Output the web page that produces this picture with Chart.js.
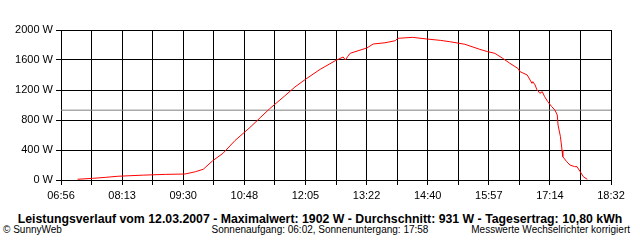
<!DOCTYPE html>
<html>
<head>
<meta charset="utf-8">
<script src="https://cdn.jsdelivr.net/npm/chart.js@4/dist/chart.umd.min.js"></script>
<style>
  body { margin: 0; background: #fff; }
  #wrap { position: relative; width: 640px; height: 240px; overflow: hidden; background: #fff; }
  #chart { position: absolute; left: 0; top: 0; }
  .txt { position: absolute; font-family: "Liberation Sans", Arial, sans-serif; color: #000; line-height: 1; white-space: nowrap; }
  #title { left: 0; width: 640px; top: 213px; text-align: center; font-weight: bold; font-size: 12.3px; }
  #left { left: 3px; top: 225px; font-size: 10px; }
  #mid { left: 0; width: 640px; top: 225px; text-align: center; font-size: 10px; }
  #right { right: 10px; top: 225px; font-size: 10px; }
</style>
</head>
<body>
<div id="wrap">
  <canvas id="chart" width="640" height="200"></canvas>
  <div class="txt" id="title">Leistungsverlauf vom 12.03.2007 - Maximalwert: 1902 W - Durchschnitt: 931 W - Tagesertrag: 10,80 kWh</div>
  <div class="txt" id="left">© SunnyWeb</div>
  <div class="txt" id="mid">Sonnenaufgang: 06:02, Sonnenuntergang: 17:58</div>
  <div class="txt" id="right">Messwerte Wechselrichter korrigiert</div>
</div>
<script>
// Achsenbeschriftung (jede zweite Gitterlinie hat ein Label)
const timeLabels = ["06:56", "08:13", "09:30", "10:48", "12:05", "13:22", "14:40", "15:57", "17:14", "18:32"];
const yMax = 2000;
const yStep = 400;
const average = 931; // Durchschnitt in W

const sampleTimes = [
  "07:17", "07:36", "07:52", "08:08", "08:40", "09:08", "09:33", "09:46", "09:56", "10:08",
  "10:21", "10:36", "10:55", "11:08", "11:20", "11:39", "11:52", "12:05", "12:24", "12:43",
  "12:53", "12:56", "12:59", "13:02", "13:23", "13:31", "13:46", "13:59", "14:02", "14:21",
  "14:39", "14:56", "15:08", "15:27", "15:46", "15:56", "16:05", "16:15", "16:24", "16:34",
  "16:37", "16:46", "16:52", "16:53", "16:56", "16:58", "17:02", "17:05", "17:08", "17:12",
  "17:17", "17:21", "17:24", "17:25", "17:28", "17:30", "17:31", "17:36", "17:40", "17:46",
  "17:49", "17:53", "17:57", "18:02"
];
const watts = [
  10, 22, 35, 50, 65, 75, 80, 110, 143, 257,
  356, 524, 700, 830, 950, 1120, 1240, 1340, 1476, 1590,
  1640, 1600, 1650, 1690, 1760, 1813, 1830, 1857, 1889, 1902,
  1880, 1862, 1844, 1810, 1742, 1711, 1689, 1622, 1556, 1489,
  1444, 1400, 1289, 1311, 1267, 1209, 1156, 1178, 1111, 1044,
  978, 933, 867, 733, 578, 400, 311, 244, 200, 178,
  178, 111, 44, 9
];

function toMin(s) {
  const p = s.split(":");
  return parseInt(p[0]) * 60 + parseInt(p[1]);
}

const xMin = toMin(timeLabels[0]);
const xMax = toMin(timeLabels[timeLabels.length - 1]);
const nGrid = (timeLabels.length - 1) * 2;

const powerData = sampleTimes.map((t, i) => ({ x: toMin(t), y: watts[i] }));
const avgData = [{ x: xMin, y: average }, { x: xMax, y: average }];

const font = { family: "'Liberation Sans', Arial, sans-serif", size: 11 };

new Chart(document.getElementById("chart"), {
  type: "line",
  data: {
    datasets: [
      {
        data: powerData,
        borderColor: "#ff0000",
        borderWidth: 1,
        pointRadius: 0,
        tension: 0,
      },
      {
        data: avgData,
        borderColor: "#808080",
        borderWidth: 1,
        pointRadius: 0,
      },
    ],
  },
  options: {
    responsive: false,
    animation: false,
    layout: { padding: { top: 30, right: 29, left: 0, bottom: 0 } },
    plugins: { legend: { display: false }, tooltip: { enabled: false } },
    scales: {
      x: {
        type: "linear",
        min: xMin,
        max: xMax,
        afterBuildTicks: (scale) => {
          const ticks = [];
          for (let i = 0; i <= nGrid; i++) ticks.push({ value: xMin + (i * (xMax - xMin)) / nGrid });
          scale.ticks = ticks;
        },
        afterFit: (scale) => { scale.height = 20; },
        grid: { color: "#000", lineWidth: 1, tickLength: 5, tickColor: "#000" },
        border: { display: true, color: "#000", width: 1 },
        ticks: {
          autoSkip: false,
          maxRotation: 0,
          padding: 4,
          color: "#000",
          font: font,
          callback: (v, i) => (i % 2 === 0 ? timeLabels[i / 2] : ""),
        },
      },
      y: {
        min: 0,
        max: yMax,
        afterFit: (scale) => { scale.width = 61; },
        grid: { color: "#000", lineWidth: 1, tickLength: 5, tickColor: "#000" },
        border: { display: true, color: "#000", width: 1 },
        ticks: {
          stepSize: yStep,
          padding: 3,
          color: "#000",
          font: font,
          callback: (v) => v + " W",
        },
      },
    },
  },
});
</script>
</body>
</html>
